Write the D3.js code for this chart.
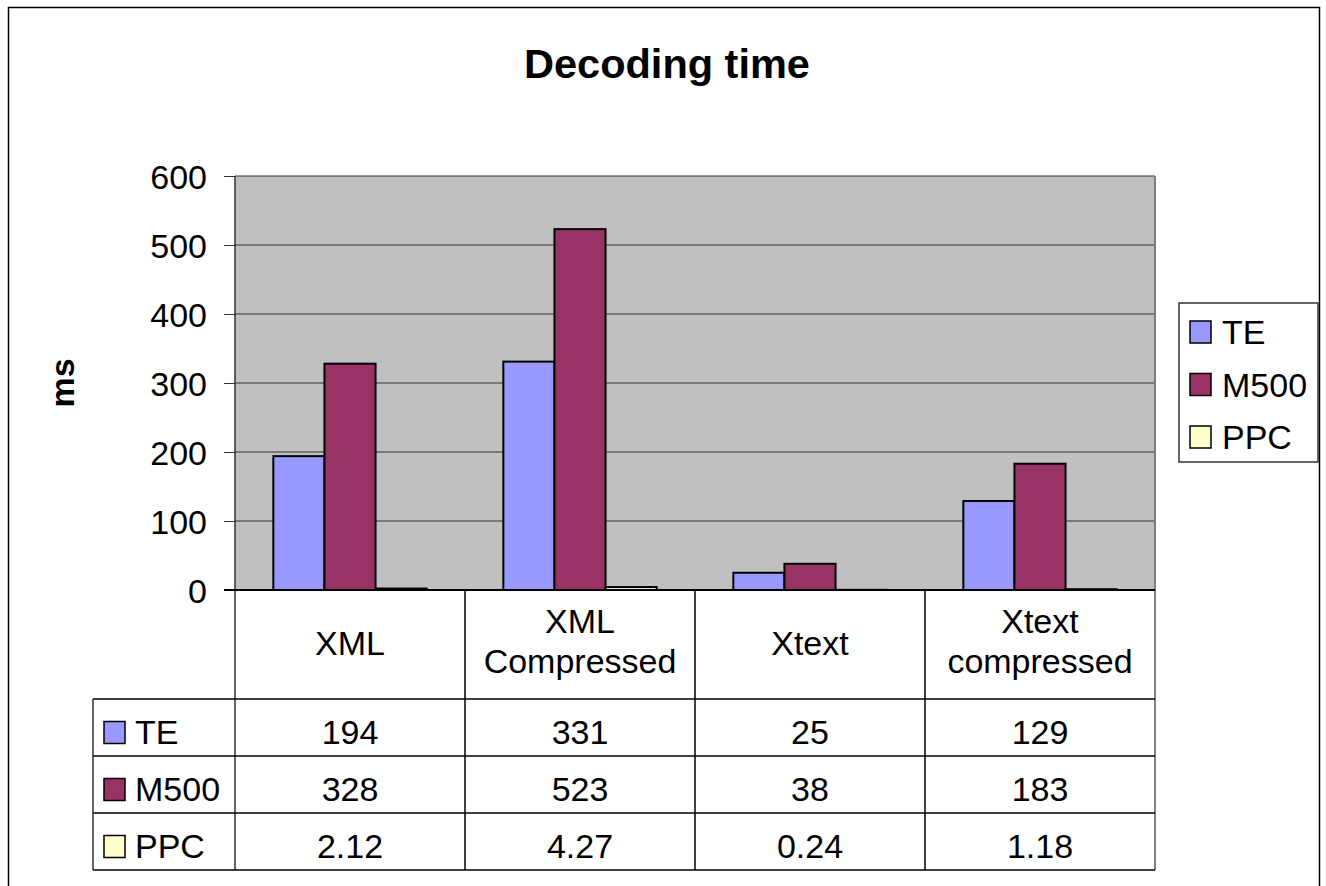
<!DOCTYPE html>
<html>
<head>
<meta charset="utf-8">
<script src="https://cdn.jsdelivr.net/npm/d3@7"></script>
<style>
  body { margin: 0; background: #fff; }
  svg { font-family: "Liberation Sans", Arial, sans-serif; }
</style>
</head>
<body>
<div class="chart"></div>
<script>
const width = 1326;
const height = 886;

// chart data
const categories = ["XML", "XML\nCompressed", "Xtext", "Xtext\ncompressed"];
const seriesNames = ["TE", "M500", "PPC"];
const teValues = [194, 331, 25, 129];
const m500Values = [328, 523, 38, 183];
const ppcValues = [2.12, 4.27, 0.24, 1.18];
const tableLabels = [
    ["194", "331", "25", "129"],
    ["328", "523", "38", "183"],
    ["2.12", "4.27", "0.24", "1.18"]
];
const yTicks = [0, 100, 200, 300, 400, 500, 600];
const colors = ["#9999FF", "#993366", "#FFFFCC"];

const seriesValues = [teValues, m500Values, ppcValues];

// plot area
const plot = { left: 235, right: 1155, top: 176, bottom: 590 };
const tableBottom = 870;
const headerBottom = 699;
const tableLeft = 93;

const svg = d3.select(".chart").append("svg")
    .attr("width", width)
    .attr("height", height);

// outer frame
svg.append("rect")
    .attr("x", 8.5).attr("y", 7.5)
    .attr("width", 1311).attr("height", 900)
    .attr("fill", "#fff")
    .attr("stroke", "#000")
    .attr("stroke-width", 1.5);

// scales
const x0 = d3.scaleBand()
    .domain(categories)
    .range([plot.left, plot.right]);

const x1 = d3.scaleBand()
    .domain(seriesNames)
    .range([0, x0.bandwidth()])
    .paddingOuter(0.75);

const yScale = d3.scaleLinear()
    .domain([0, 600])
    .range([plot.bottom, plot.top]);

// plot background
svg.append("rect")
    .attr("x", plot.left).attr("y", plot.top)
    .attr("width", plot.right - plot.left)
    .attr("height", plot.bottom - plot.top)
    .attr("fill", "#C0C0C0");

// gridlines
svg.append("g")
    .selectAll("line")
    .data(yTicks.filter(d => d > 0))
    .enter()
    .append("line")
    .attr("x1", plot.left).attr("x2", plot.right)
    .attr("y1", d => yScale(d)).attr("y2", d => yScale(d))
    .attr("stroke", "#333")
    .attr("stroke-width", 1);

// y axis
const yAxis = d3.axisLeft(yScale)
    .tickValues(yTicks)
    .tickSize(11)
    .tickPadding(17);

const yG = svg.append("g")
    .attr("transform", `translate(${plot.left}, 0)`)
    .call(yAxis);
yG.select(".domain").remove();
yG.selectAll(".tick line").attr("stroke", "#333");
yG.selectAll(".tick text")
    .attr("font-size", 34)
    .attr("fill", "#000")
    .attr("dy", "0.38em");

// bars
const groups = svg.append("g")
    .selectAll("g")
    .data(categories)
    .enter()
    .append("g")
    .attr("transform", d => `translate(${x0(d)}, 0)`);

groups.selectAll("rect")
    .data((c, i) => seriesNames.map((s, j) => ({ series: s, value: seriesValues[j][i], color: colors[j] })))
    .enter()
    .append("rect")
    .attr("x", d => x1(d.series))
    .attr("y", d => yScale(d.value))
    .attr("width", x1.bandwidth())
    .attr("height", d => plot.bottom - yScale(d.value))
    .attr("fill", d => d.color)
    .attr("stroke", "#000")
    .attr("stroke-width", 2);

// plot right border
svg.append("line")
    .attr("x1", plot.right).attr("x2", plot.right)
    .attr("y1", plot.top).attr("y2", tableBottom)
    .attr("stroke", "#808080").attr("stroke-width", 2);

// axis lines
svg.append("line")
    .attr("x1", plot.left).attr("x2", plot.left)
    .attr("y1", plot.top).attr("y2", tableBottom)
    .attr("stroke", "#333").attr("stroke-width", 1.5);
svg.append("line")
    .attr("x1", plot.left - 11).attr("x2", plot.right)
    .attr("y1", plot.bottom).attr("y2", plot.bottom)
    .attr("stroke", "#000").attr("stroke-width", 2);

// data table
const rowScale = d3.scaleBand()
    .domain(seriesNames)
    .range([headerBottom, tableBottom]);

// category separators
svg.append("g")
    .selectAll("line")
    .data(categories.slice(1))
    .enter()
    .append("line")
    .attr("x1", d => x0(d)).attr("x2", d => x0(d))
    .attr("y1", plot.bottom).attr("y2", tableBottom)
    .attr("stroke", "#000").attr("stroke-width", 1.5);

// horizontal rows
svg.append("g")
    .selectAll("line")
    .data([headerBottom, ...seriesNames.map(s => rowScale(s) + rowScale.bandwidth())])
    .enter()
    .append("line")
    .attr("x1", tableLeft).attr("x2", plot.right)
    .attr("y1", d => d).attr("y2", d => d)
    .attr("stroke", "#000").attr("stroke-width", 1.5);

svg.append("line")
    .attr("x1", tableLeft).attr("x2", tableLeft)
    .attr("y1", headerBottom).attr("y2", tableBottom)
    .attr("stroke", "#333").attr("stroke-width", 1.5);

// category headers
const headers = svg.append("g")
    .selectAll("text")
    .data(categories)
    .enter()
    .append("text")
    .attr("text-anchor", "middle")
    .attr("font-size", 34)
    .attr("fill", "#000");

headers.each(function(d) {
    const lines = d.split("\n");
    const cx = x0(d) + x0.bandwidth() / 2;
    const startY = lines.length === 1 ? 655 : 633;
    d3.select(this).selectAll("tspan")
        .data(lines)
        .enter()
        .append("tspan")
        .attr("x", cx)
        .attr("y", (l, i) => startY + i * 40)
        .text(l => l);
});

// table values
seriesNames.forEach((s, j) => {
    const cy = rowScale(s) + rowScale.bandwidth() / 2;
    svg.append("g")
        .selectAll("text")
        .data(categories)
        .enter()
        .append("text")
        .attr("x", d => x0(d) + x0.bandwidth() / 2)
        .attr("y", cy + 16)
        .attr("text-anchor", "middle")
        .attr("font-size", 34)
        .text((d, i) => tableLabels[j][i]);

    // row key
    svg.append("rect")
        .attr("x", 104).attr("y", cy - 6)
        .attr("width", 21).attr("height", 22)
        .attr("fill", colors[j])
        .attr("stroke", "#000").attr("stroke-width", 1.5);
    svg.append("text")
        .attr("x", 135).attr("y", cy + 16)
        .attr("font-size", 34)
        .text(s);
});

// legend
const legend = svg.append("g");
legend.append("rect")
    .attr("x", 1179).attr("y", 303)
    .attr("width", 139).attr("height", 159)
    .attr("fill", "#fff")
    .attr("stroke", "#333").attr("stroke-width", 1.5);

const legendY = d3.scalePoint()
    .domain(seriesNames)
    .range([332, 437]);

seriesNames.forEach((s, j) => {
    legend.append("rect")
        .attr("x", 1190).attr("y", legendY(s) - 11)
        .attr("width", 21).attr("height", 22)
        .attr("fill", colors[j])
        .attr("stroke", "#000").attr("stroke-width", 1.5);
    legend.append("text")
        .attr("x", 1222).attr("y", legendY(s) + 12)
        .attr("font-size", 34)
        .text(s);
});

// title
svg.append("text")
    .attr("x", 667).attr("y", 78)
    .attr("text-anchor", "middle")
    .attr("font-size", 41.5)
    .attr("font-weight", "bold")
    .text("Decoding time");

// y label
svg.append("text")
    .attr("transform", "translate(74, 383) rotate(-90)")
    .attr("text-anchor", "middle")
    .attr("font-size", 34)
    .attr("font-weight", "bold")
    .text("ms");
</script>
</body>
</html>
